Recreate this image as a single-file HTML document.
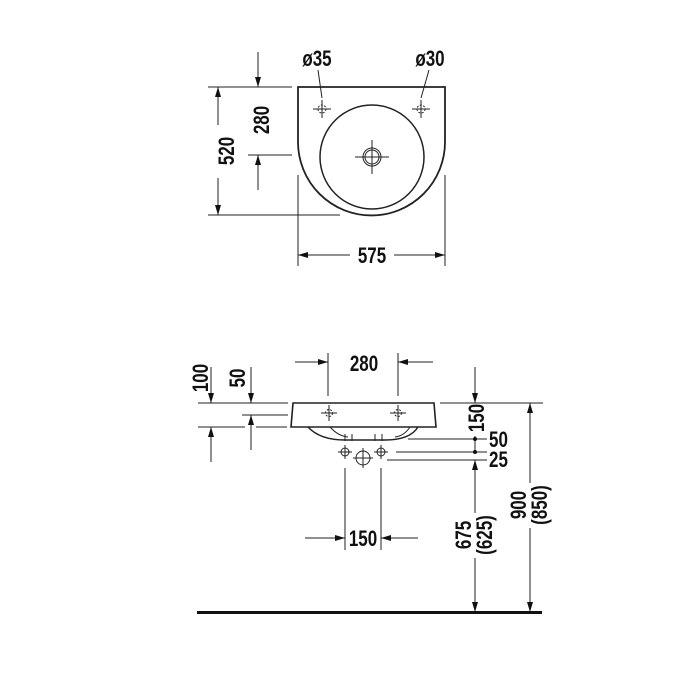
<!DOCTYPE html>
<html><head><meta charset="utf-8"><style>
html,body{margin:0;padding:0;background:#fff;}
svg{display:block;}
text{font-family:"Liberation Sans Narrow","Liberation Sans",sans-serif;font-weight:bold;font-size:20px;fill:#111;}
</style></head><body>
<svg width="700" height="700" viewBox="0 0 700 700" xmlns="http://www.w3.org/2000/svg">
<defs>
<marker id="a" markerWidth="10" markerHeight="6" refX="10" refY="3" orient="auto" markerUnits="userSpaceOnUse">
<path d="M0,0 L10,3 L0,6 Z" fill="#111"/></marker>
</defs>
<g stroke="#222" stroke-width="1" fill="none">
<path d="M298,87 L445,87 L445,142 A73.5,73.5 0 0 1 298,142 Z" stroke-width="1.8"/>
<circle cx="372" cy="157" r="52" stroke-width="1.5"/>
<circle cx="372" cy="157" r="9"/>
<circle cx="372" cy="157" r="7"/>
<path d="M355,157 H389 M372,140 V174"/>
<circle cx="322" cy="109" r="4" stroke-dasharray="2,1.5"/>
<path d="M313,109 H331 M322,100 V118"/>
<circle cx="421" cy="109" r="4" stroke-dasharray="2,1.5"/>
<path d="M412,109 H430 M421,100 V118"/>
<path d="M318,70 L322,98 M429,70 L421,98"/>
<path d="M208,87 H292 M208,215 H340"/>
<line x1="218" y1="125" x2="218" y2="87" marker-end="url(#a)"/>
<line x1="218" y1="178" x2="218" y2="215" marker-end="url(#a)"/>
<line x1="258" y1="52" x2="258" y2="87" marker-end="url(#a)"/>
<line x1="258" y1="190" x2="258" y2="155" marker-end="url(#a)"/>
<path d="M248,155 H292"/>
<path d="M298,175 V266 M445,175 V266"/>
<line x1="350" y1="255" x2="298" y2="255" marker-end="url(#a)"/>
<line x1="394" y1="255" x2="445" y2="255" marker-end="url(#a)"/>

<path d="M293,403 L434,403 L436,427 L291,427 Z" stroke-width="1.6"/>
<path d="M308,427 Q320,440 345,440 L385,440 Q410,440 418,427" stroke-width="1.4"/>
<path d="M330,427 Q338,436 348,437 M395,437 Q404,436 410,427"/>
<path d="M345,434 V441 M352,434 V441 M375,434 V441 M382,434 V441"/>
<circle cx="329" cy="413" r="3.5" stroke-dasharray="2,1.5"/>
<path d="M321,413 H337 M329,405 V421"/>
<circle cx="398" cy="413" r="3.5" stroke-dasharray="2,1.5"/>
<path d="M390,413 H406 M398,405 V421"/>
<circle cx="345" cy="452" r="4"/><path d="M338,452 H352 M345,445 V459"/>
<circle cx="381" cy="452" r="4"/><path d="M374,452 H388 M381,445 V459"/>
<circle cx="363" cy="458" r="7"/><path d="M353,458 H373 M363,448 V468"/>
<path d="M328,353 V396 M398,353 V396"/>
<line x1="295" y1="362" x2="328" y2="362" marker-end="url(#a)"/>
<line x1="433" y1="362" x2="398" y2="362" marker-end="url(#a)"/>
<path d="M198,403 H288 M242,415 H288 M198,427 H245 M256,427 H287"/>
<line x1="211" y1="367" x2="211" y2="403" marker-end="url(#a)"/>
<line x1="211" y1="462" x2="211" y2="427" marker-end="url(#a)"/>
<line x1="251" y1="367" x2="251" y2="403" marker-end="url(#a)"/>
<line x1="251" y1="450" x2="251" y2="415" marker-end="url(#a)"/>
<path d="M440,403 H543"/>
<line x1="475" y1="367" x2="475" y2="403" marker-end="url(#a)"/>
<path d="M475,436 V452"/>
<path d="M408,439 H487 M396,452 H487 M387,460 H487"/>
<line x1="475" y1="513" x2="475" y2="460" marker-end="url(#a)"/>
<line x1="475" y1="558" x2="475" y2="612" marker-end="url(#a)"/>
<line x1="530" y1="483" x2="530" y2="403" marker-end="url(#a)"/>
<line x1="530" y1="528" x2="530" y2="612" marker-end="url(#a)"/>
<path d="M345,468 V550 M381,468 V550"/>
<line x1="305" y1="538" x2="345" y2="538" marker-end="url(#a)"/>
<line x1="418" y1="538" x2="381" y2="538" marker-end="url(#a)"/>
</g>
<circle cx="475" cy="439" r="2" fill="#111"/>
<circle cx="475" cy="452" r="2" fill="#111"/>
<rect x="197" y="611" width="345" height="3" fill="#111"/>

<g text-anchor="middle">
<text transform="translate(317,66) scale(0.85,1.1)">ø35</text>
<text transform="translate(430,66) scale(0.85,1.1)">ø30</text>
<text transform="translate(372,263) scale(0.85,1.1)">575</text>
<text transform="translate(234,151) rotate(-90) scale(0.85,1.1)">520</text>
<text transform="translate(269,120) rotate(-90) scale(0.85,1.1)">280</text>
<text transform="translate(364,371) scale(0.85,1.1)">280</text>
<text transform="translate(208,378) rotate(-90) scale(0.85,1.1)">100</text>
<text transform="translate(245,378) rotate(-90) scale(0.85,1.1)">50</text>
<text transform="translate(484,418) rotate(-90) scale(0.85,1.1)">150</text>
<text transform="translate(363,546) scale(0.85,1.1)">150</text>
<text transform="translate(471,535) rotate(-90) scale(0.85,1.1)">675</text>
<text transform="translate(492,535) rotate(-90) scale(0.85,1.1)">(625)</text>
<text transform="translate(526,505) rotate(-90) scale(0.85,1.1)">900</text>
<text transform="translate(547,505) rotate(-90) scale(0.85,1.1)">(850)</text>
</g>
<text transform="translate(489,447) scale(0.85,1.1)">50</text>
<text transform="translate(489,467) scale(0.85,1.1)">25</text>
</svg>
</body></html>
